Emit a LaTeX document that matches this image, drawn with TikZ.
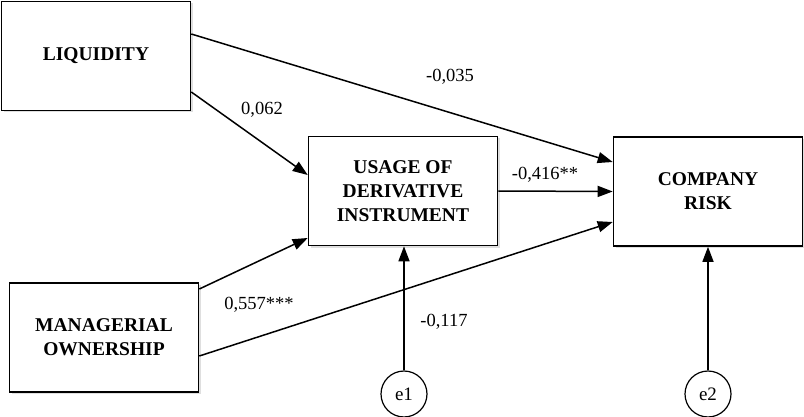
\documentclass[tikz,border=0pt]{standalone}
\usepackage{fontspec}
\setmainfont{Liberation Serif}
\usepackage{tikz}
\usetikzlibrary{arrows.meta,shadows,positioning}

\tikzset{
  varbox/.style={draw,line width=1.6pt,fill=white,inner sep=0pt,align=center,
    minimum width=189pt,minimum height=109pt,
    font=\fontsize{19.5}{24}\selectfont\bfseries,
    drop shadow={shadow xshift=2pt,shadow yshift=-2pt,opacity=0.25}},
  errnode/.style={draw,circle,line width=1.2pt,minimum size=46pt,inner sep=0pt,
    font=\fontsize{19}{22}\selectfont},
  coef/.style={font=\fontsize{18.5}{22}\selectfont,inner sep=0pt},
  path/.style={line width=1.5pt,-{Triangle[length=15pt,width=11pt]}}
}

\begin{document}
\begin{tikzpicture}[x=1pt,y=-1pt]
  \useasboundingbox (0,0) rectangle (804,417);
  % variables
  \node[varbox] (liq) at (96,56) {LIQUIDITY};
  \node[varbox] (deriv) at (403,191) {USAGE OF\\DERIVATIVE\\INSTRUMENT};
  \node[varbox] (risk) at (708,191.5) {COMPANY\\RISK};
  \node[varbox] (own) at (104,337.5) {MANAGERIAL\\OWNERSHIP};
  \node[errnode] (e1) at (404,394) {e1};
  \node[errnode] (e2) at (708,394) {e2};
  % paths
  \draw[path] ([yshift=22pt]liq.east) -- ([yshift=29.5pt]risk.west);
  \draw[path] ([yshift=-36pt]liq.east) -- ([yshift=16pt]deriv.west);
  \draw[path] (deriv.east) -- (risk.west);
  \draw[path] ([yshift=48.5pt]own.east) -- ([yshift=-47pt]deriv.west);
  \draw[path] ([yshift=-18.5pt]own.east) -- ([yshift=-30.5pt]risk.west);
  \draw[path] (e1) -- (deriv.south -| e1);
  \draw[path] (e2) -- (risk.south -| e2);
  % coefficients
  \node[coef] (c1) at (450,77) {-0,035};
  \node[coef] (c2) at (262,110) {0,062};
  \node[coef] (c3) at (545,175) {-0,416**};
  \node[coef] (c4) at (259,305) {0,557***};
  \node[coef] (c5) at (444,322) {-0,117};
\end{tikzpicture}
\end{document}
